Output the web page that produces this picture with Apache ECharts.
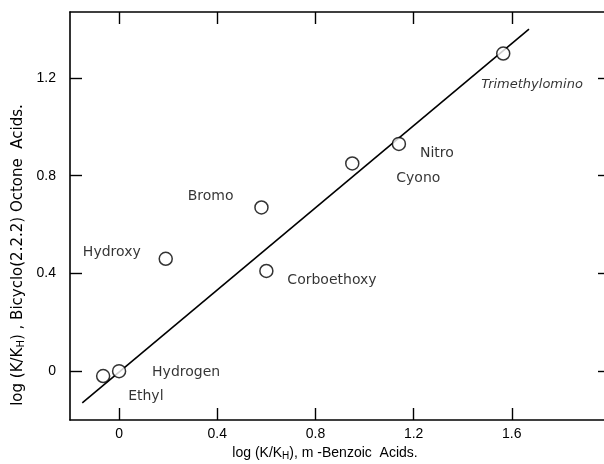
<!DOCTYPE html>
<html>
<head>
<meta charset="utf-8">
<script src="https://cdn.jsdelivr.net/npm/echarts@6/dist/echarts.min.js"></script>
<style>html,body{margin:0;padding:0;background:#fff;}#c{width:604px;height:464px;}</style>
</head>
<body>
<div id="c"></div>
<script>
// ---- data ----
var names = ['Ethyl', 'Hydrogen', 'Hydroxy', 'Bromo', 'Corboethoxy', 'Cyono', 'Nitro', 'Trimethylomino'];
var benzoic = [-0.065, 0.0, 0.19, 0.58, 0.60, 0.95, 1.14, 1.565];
var bicyclo = [-0.02, 0.0, 0.46, 0.67, 0.41, 0.85, 0.93, 1.30];
var fitX = [-0.15, 1.67];
var fitY = [-0.13, 1.40];
var xTicks = [0, 0.4, 0.8, 1.2, 1.6];
var yTicks = [0, 0.4, 0.8, 1.2];

// ---- layout of annotation labels (pixels relative to marker) ----
var labelLayout = [
  {align: 'left', dx: 25, dy: 20, size: 14},
  {align: 'left', dx: 33, dy: 1, size: 14},
  {align: 'right', dx: -25, dy: -6, size: 14},
  {align: 'right', dx: -28, dy: -11, size: 14},
  {align: 'left', dx: 21, dy: 9, size: 14},
  {align: 'left', dx: 44, dy: 15, size: 14},
  {align: 'left', dx: 21, dy: 9, size: 14},
  {align: 'left', dx: -22, dy: 31, size: 13, italic: true}
];

var FONT = 'DejaVu Sans';
var chart = echarts.init(document.getElementById('c'), null, {renderer: 'canvas'});

var pts = benzoic.map(function (x, i) {
  var L = labelLayout[i];
  return {
    value: [x, bicyclo[i]],
    name: names[i],
    label: {
      show: true,
      position: 'inside',
      align: L.align,
      verticalAlign: 'middle',
      offset: [L.dx, L.dy],
      formatter: names[i],
      color: '#000',
      fontFamily: FONT,
      fontSize: L.size,
      fontStyle: L.italic ? 'italic' : 'normal'
    }
  };
});

var axisCommon = {
  type: 'value',
  axisLine: {show: true, onZero: false, lineStyle: {color: '#000', width: 1.6}},
  axisTick: {show: true, inside: true, length: 12, lineStyle: {color: '#000', width: 1.4}},
  splitLine: {show: false}
};

var option = {
  backgroundColor: '#fff',
  animation: false,
  grid: {left: 70, top: 12, width: 540, height: 408, outerBoundsMode: 'none', containLabel: false},
  xAxis: [
    Object.assign({}, axisCommon, {
      position: 'bottom', min: -0.2, max: 2.0,
      axisTick: Object.assign({}, axisCommon.axisTick, {customValues: xTicks}),
      axisLabel: {customValues: xTicks, margin: 7, color: '#000', fontFamily: 'Liberation Sans', fontSize: 14,
        formatter: function (v) { return String(v); }}
    }),
    Object.assign({}, axisCommon, {
      position: 'top', min: -0.2, max: 2.0,
      axisTick: Object.assign({}, axisCommon.axisTick, {customValues: xTicks}),
      axisLabel: {show: false}
    })
  ],
  yAxis: [
    Object.assign({}, axisCommon, {
      position: 'left', min: -0.2, max: 1.47,
      axisTick: Object.assign({}, axisCommon.axisTick, {customValues: yTicks}),
      axisLabel: {customValues: yTicks, margin: 14, color: '#000', fontFamily: 'Liberation Sans', fontSize: 14,
        formatter: function (v) { return String(v); }}
    }),
    Object.assign({}, axisCommon, {
      position: 'right', min: -0.2, max: 1.47,
      axisTick: Object.assign({}, axisCommon.axisTick, {customValues: yTicks}),
      axisLabel: {show: false}
    })
  ],
  series: [
    {
      type: 'line',
      xAxisIndex: 0, yAxisIndex: 0,
      data: fitX.map(function (x, i) { return [x, fitY[i]]; }),
      symbol: 'none',
      lineStyle: {color: '#000', width: 1.6},
      silent: true,
      z: 2
    },
    {
      type: 'scatter',
      xAxisIndex: 0, yAxisIndex: 0,
      data: pts,
      symbol: 'circle',
      symbolSize: 13,
      itemStyle: {color: '#fff', borderColor: '#000', borderWidth: 1.5},
      z: 3
    }
  ],
  graphic: [
    {
      type: 'text',
      x: 325, y: 453,
      style: {
        text: '{a|log (K/K}{s|H}{a|), m -Benzoic  Acids.}',
        align: 'center',
        verticalAlign: 'middle',
        rich: {
          a: {fontFamily: 'Liberation Sans', fontSize: 14, fill: '#000'},
          s: {fontFamily: 'Liberation Sans', fontSize: 10, fill: '#000', verticalAlign: 'bottom', padding: [7, 0, 0, 0]}
        }
      }
    },
    {
      type: 'text',
      x: 18, y: 255,
      rotation: Math.PI / 2,
      style: {
        text: '{a|log (K/K}{s|H}{a|) , Bicyclo(2.2.2) Octone  Acids.}',
        align: 'center',
        verticalAlign: 'middle',
        rich: {
          a: {fontFamily: 'DejaVu Sans', fontSize: 15, fill: '#000'},
          s: {fontFamily: 'DejaVu Sans', fontSize: 10, fill: '#000', verticalAlign: 'bottom', padding: [7, 0, 0, 0]}
        }
      }
    }
  ]
};
chart.setOption(option);
</script>
</body>
</html>
